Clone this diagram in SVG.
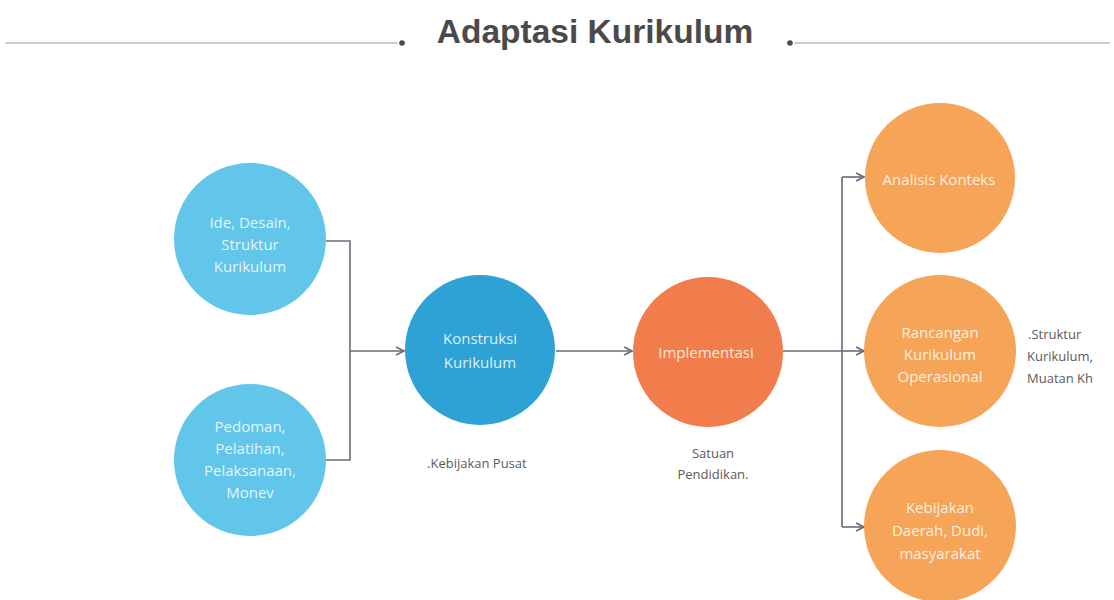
<svg xmlns="http://www.w3.org/2000/svg" width="1114" height="600" viewBox="0 0 1114 600">
  <style>
    .title { font-family: "Liberation Sans", Arial, sans-serif; font-size: 33.5px; font-weight: bold; fill: #4a4a4a; }
    .rule { stroke: #9a9aa8; stroke-width: 1.2; fill: none; }
    .dot { fill: #4a4a55; }
    .in { font-family: "Open Sans", "Liberation Sans", sans-serif; font-size: 15px; fill: #ffffff; fill-opacity: 0.85; text-anchor: middle; }
    .cap { font-family: "Open Sans", "Liberation Sans", sans-serif; font-size: 13px; fill: #5a5a5a; }
    .light-blue { fill: #62c6ea; }
    .blue { fill: #2ea2d5; }
    .red-orange { fill: #f07d4b; }
    .orange { fill: #f6a457; }
    .conn { stroke: #6b6b7a; stroke-width: 1.6; fill: none; }
  </style>
  <defs>
    <marker id="arrow" viewBox="0 0 10 10" refX="9" refY="5" markerWidth="10" markerHeight="10" markerUnits="userSpaceOnUse" orient="auto">
      <path d="M1,1 L9,5 L1,9" fill="none" stroke="#6b6b7a" stroke-width="1.6"/>
    </marker>
  </defs>

  <rect width="1114" height="600" fill="#ffffff"/>

  <!-- heading with side rules -->
  <g id="heading">
    <line class="rule" x1="5" y1="43" x2="398" y2="43"/>
    <circle class="dot" cx="402" cy="43" r="2.8"/>
    <text class="title" x="595" y="43" text-anchor="middle">Adaptasi Kurikulum</text>
    <circle class="dot" cx="790" cy="43" r="2.8"/>
    <line class="rule" x1="794" y1="43" x2="1110" y2="43"/>
  </g>

  <!-- connectors -->
  <g id="connectors">
    <path class="conn" d="M326,241 H350 V460 H326"/>
    <line class="conn" x1="350" y1="351" x2="404" y2="351" marker-end="url(#arrow)"/>
    <line class="conn" x1="556" y1="351" x2="632" y2="351" marker-end="url(#arrow)"/>
    <path class="conn" d="M783,351 H842"/>
    <path class="conn" d="M842,177 V527"/>
    <line class="conn" x1="842" y1="177" x2="864" y2="177" marker-end="url(#arrow)"/>
    <line class="conn" x1="842" y1="351" x2="864" y2="351" marker-end="url(#arrow)"/>
    <line class="conn" x1="842" y1="527" x2="864" y2="527" marker-end="url(#arrow)"/>
  </g>

  <g id="node-ide">
    <circle class="light-blue" cx="250" cy="239" r="76"/>
    <text class="in" x="250" y="228">Ide, Desain,</text>
    <text class="in" x="250" y="250">Struktur</text>
    <text class="in" x="250" y="272">Kurikulum</text>
  </g>

  <g id="node-pedoman">
    <circle class="light-blue" cx="250" cy="460" r="76"/>
    <text class="in" x="250" y="432">Pedoman,</text>
    <text class="in" x="250" y="454">Pelatihan,</text>
    <text class="in" x="250" y="476">Pelaksanaan,</text>
    <text class="in" x="250" y="498">Monev</text>
  </g>

  <g id="node-konstruksi">
    <circle class="blue" cx="480" cy="350" r="75"/>
    <text class="in" x="480" y="344">Konstruksi</text>
    <text class="in" x="480" y="368">Kurikulum</text>
    <text class="cap" x="427" y="468">.Kebijakan Pusat</text>
  </g>

  <g id="node-implementasi">
    <circle class="red-orange" cx="708" cy="352" r="75"/>
    <text class="in" x="706" y="358">Implementasi</text>
    <text class="cap" x="713" y="458" text-anchor="middle">Satuan</text>
    <text class="cap" x="713" y="479" text-anchor="middle">Pendidikan.</text>
  </g>

  <g id="node-analisis">
    <circle class="orange" cx="940" cy="178" r="75"/>
    <text class="in" x="939" y="185">Analisis Konteks</text>
  </g>

  <g id="node-rancangan">
    <circle class="orange" cx="940" cy="351" r="76"/>
    <text class="in" x="940" y="338">Rancangan</text>
    <text class="in" x="940" y="360">Kurikulum</text>
    <text class="in" x="940" y="382">Operasional</text>
    <text class="cap" x="1028" y="339">.Struktur</text>
    <text class="cap" x="1027" y="361">Kurikulum,</text>
    <text class="cap" x="1027" y="383">Muatan Kh</text>
  </g>

  <g id="node-kebijakan">
    <circle class="orange" cx="940" cy="526" r="76"/>
    <text class="in" x="940" y="513">Kebijakan</text>
    <text class="in" x="940" y="536">Daerah, Dudi,</text>
    <text class="in" x="940" y="559">masyarakat</text>
  </g>
</svg>
